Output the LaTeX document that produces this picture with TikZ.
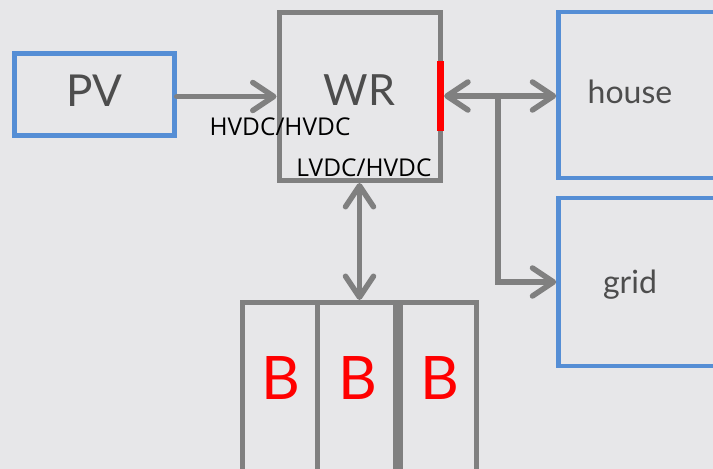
\documentclass[tikz,border=0pt]{standalone}
\usepackage{fontspec}
\setmainfont{Lato}
\newfontfamily\labelfont{Open Sans}
\usetikzlibrary{positioning,arrows.meta}
\definecolor{BgGray}{HTML}{E7E7E9}
\definecolor{LineGray}{HTML}{808080}
\definecolor{BoxBlue}{HTML}{558ED5}
\definecolor{TextGray}{HTML}{4D4D4D}
\definecolor{MarkRed}{HTML}{FF0000}

\tikzset{
  bluebox/.style={draw=BoxBlue, line width=4.5pt, rectangle},
  graybox/.style={draw=LineGray, line width=5pt, rectangle},
  conn/.style={draw=LineGray, line width=5.5pt, line cap=round},
  dclabel/.style={font=\labelfont\fontsize{24.5}{25}\selectfont, text=black, inner sep=0pt},
  btext/.style={font=\fontsize{60}{60}\selectfont, text=MarkRed, inner sep=0pt}
}

\begin{document}
\begin{tikzpicture}[x=1pt, y=-1pt, >={Straight Barb[length=21pt,width=28pt,round]}]
  % Background
  \fill[BgGray] (0,0) rectangle (713,469);
  \useasboundingbox (0,0) rectangle (713,469);
  \clip (0,0) rectangle (713,469);

  % Source and inverter
  \node[bluebox, minimum width=160, minimum height=82, text depth=7pt,
        font=\fontsize{44}{44}\selectfont, text=TextGray] (pv) at (94.5,94.5) {PV};
  \node[graybox, minimum width=161, minimum height=168, text depth=12pt,
        font=\fontsize{43}{43}\selectfont, text=TextGray] (wr) at (359.5,96.5) {WR};
  \node[fill=MarkRed, minimum width=7, minimum height=70, inner sep=0pt] (mark) at (440.5,96) {};

  % Loads (cut off at the right edge)
  \node[bluebox, minimum width=200, minimum height=166] (house) at (658.5,95) {};
  \node[font=\fontsize{32}{32}\selectfont, text=TextGray, inner sep=0pt] (housetext) at (630,92) {house};
  \node[bluebox, minimum width=200, minimum height=168] (grid) at (658.5,282) {};
  \node[font=\fontsize{32}{32}\selectfont, text=TextGray, inner sep=0pt] (gridtext) at (630,285) {grid};

  % Batteries (cut off at the bottom edge)
  \node[graybox, minimum width=75.5, minimum height=300, anchor=north] (b1) at (279.75,300) {};
  \node[graybox, minimum width=77.5, minimum height=300, right=-5pt of b1] (b2) {};
  \node[graybox, minimum width=76.5, minimum height=300, right=0pt of b2] (b3) {};
  \node[btext] (b1text) at (281,378) {B};
  \node[btext] (b2text) at (358,378) {B};
  \node[btext] (b3text) at (440,378) {B};

  % Connectors
  \draw[conn, ->] (pv.east |- wr.west) -- (wr.west);
  \draw[conn, <->] (mark.east) -- (house.west |- mark.east);
  \coordinate (split) at (498,96);
  \draw[conn, ->] (split) |- (grid.west);
  \draw[conn, <->] (wr.south) -- (wr.south |- b2.north);

  % Converter labels
  \node[dclabel] (hvlabel) at (280,127) {HVDC/HVDC};
  \node[dclabel] (lvlabel) at (364,168) {LVDC/HVDC};
\end{tikzpicture}
\end{document}
